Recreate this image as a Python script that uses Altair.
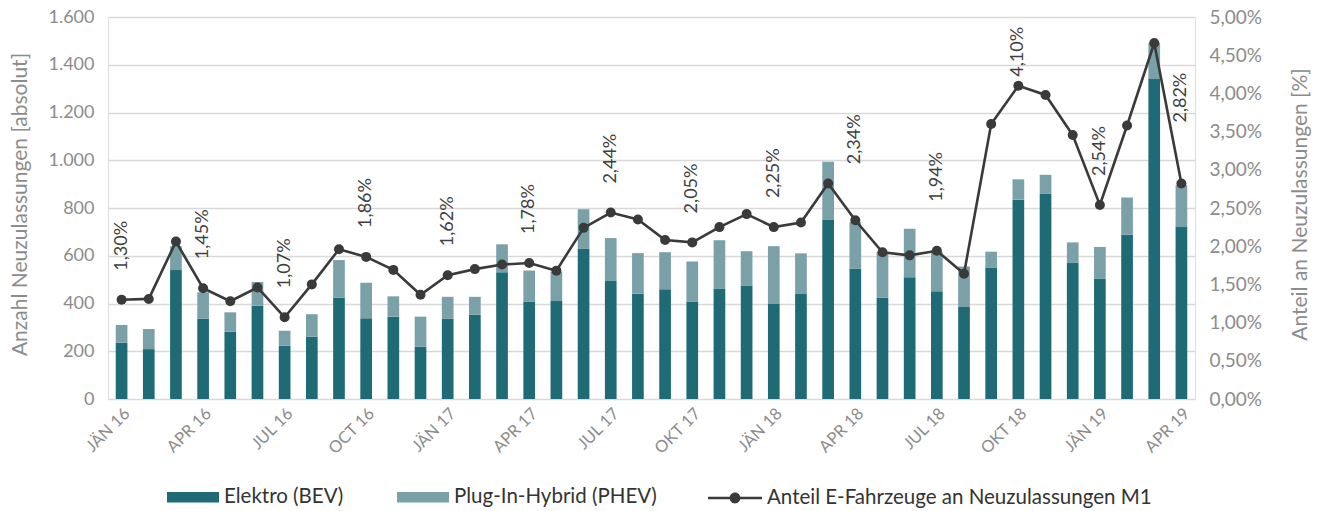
import altair as alt
import pandas as pd

FONT = "Lato"
GREY = "#8c8c8c"
DARK = "#3a3a3a"

months = [
    "JÄN 16", "FEB 16", "MÄR 16", "APR 16", "MAI 16", "JUN 16", "JUL 16", "AUG 16", "SEP 16", "OCT 16", "NOV 16", "DEZ 16",
    "JÄN 17", "FEB 17", "MÄR 17", "APR 17", "MAI 17", "JUN 17", "JUL 17", "AUG 17", "SEP 17", "OKT 17", "NOV 17", "DEZ 17",
    "JÄN 18", "FEB 18", "MÄR 18", "APR 18", "MAI 18", "JUN 18", "JUL 18", "AUG 18", "SEP 18", "OKT 18", "NOV 18", "DEZ 18",
    "JÄN 19", "FEB 19", "MÄR 19", "APR 19",
]
bev = [236, 209, 540, 336, 282, 391, 223, 261, 424, 338, 345, 219,
       336, 353, 531, 407, 410, 630, 494, 441, 460, 407, 461, 475,
       398, 440, 750, 545, 424, 510, 451, 385, 551, 835, 859, 572,
       503, 688, 1340, 720]
total = [310, 293, 640, 447, 363, 490, 286, 355, 582, 487, 430, 345,
         428, 428, 648, 538, 533, 795, 674, 611, 615, 576, 665, 619,
         640, 610, 994, 741, 616, 713, 617, 555, 617, 920, 939, 656,
         637, 844, 1492, 895]
share = [1.30, 1.31, 2.06, 1.45, 1.28, 1.46, 1.07, 1.50, 1.96, 1.86, 1.69, 1.365,
         1.62, 1.70, 1.76, 1.78, 1.68, 2.24, 2.44, 2.35, 2.08, 2.05, 2.25, 2.42,
         2.25, 2.31, 2.82, 2.34, 1.92, 1.88, 1.94, 1.64, 3.60, 4.10, 3.98, 3.455,
         2.54, 3.58, 4.66, 2.82]
phev = [t - b for t, b in zip(total, bev)]

types = ["Elektro (BEV)", "Plug-In-Hybrid (PHEV)"]
type_colors = ["#1f6b75", "#7aa0a8"]
series_name = "Anteil E-Fahrzeuge an Neuzulassungen M1"
shown_months = months[::3]
left_ticks = [0, 200, 400, 600, 800, 1000, 1200, 1400, 1600]
right_ticks = [0, 0.5, 1, 1.5, 2, 2.5, 3, 3.5, 4, 4.5, 5]

# gap (px) between a point and its rotated value label; labels not listed use the default
LABEL_GAP_DEFAULT = 29
label_gap = {"APR 18": 56, "JUL 18": 49, "OKT 18": 9, "APR 19": 61}

rows = []
for i, m in enumerate(months):
    rows.append({"month": m, "type": types[0], "value": bev[i], "ord": 0})
    rows.append({"month": m, "type": types[1], "value": phev[i], "ord": 1})
bars_df = pd.DataFrame(rows)
line_df = pd.DataFrame({"month": months, "share": share,
                        "idx": list(range(len(months))), "series": series_name})

x_axis = alt.Axis(values=shown_months, labelAngle=-45, title=None, ticks=False,
                  domain=False, grid=False, labelColor=GREY, labelFontSize=16.5,
                  labelPadding=6, labelFont=FONT)
x_enc = alt.X("month:N", sort=months,
              scale=alt.Scale(paddingInner=0.57, paddingOuter=0.285), axis=x_axis)
x_plain = alt.X("month:N", sort=months)

bars = alt.Chart(bars_df).mark_bar().encode(
    x=x_enc,
    y=alt.Y("value:Q", stack="zero", scale=alt.Scale(domain=[0, 1600]),
            axis=alt.Axis(values=left_ticks, title="Anzahl Neuzulassungen [absolut]",
                          labelExpr="replace(format(datum.value, ','), ',', '.')",
                          grid=True, gridColor="#d9d9d9", gridWidth=1.5,
                          domain=False, ticks=False, labelFontSize=18,
                          labelColor=GREY, labelFont=FONT, labelPadding=14,
                          titleFontSize=21, titleColor=GREY, titleFont=FONT,
                          titleFontWeight="normal", titleAngle=270,
                          titleAlign="center", titleBaseline="middle",
                          titleX=-88, titleY=187)),
    fill=alt.Fill("type:N", scale=alt.Scale(domain=types, range=type_colors),
                  legend=alt.Legend(orient="none", legendX=59, legendY=454,
                                    direction="horizontal", title=None,
                                    symbolType="M-1,-0.2H1V0.2H-1Z", symbolSize=2704,
                                    symbolStrokeWidth=0, labelFontSize=20.5,
                                    labelColor="#333333", labelFont=FONT,
                                    labelOffset=5, columnPadding=53, labelLimit=400)),
    order=alt.Order("ord:Q"),
)

right_axis = alt.Axis(orient="right", values=right_ticks,
                      labelExpr="replace(format(datum.value, '.2f'), '.', ',') + '%'",
                      grid=False, domain=False, ticks=False, labelFontSize=19,
                      labelColor=GREY, labelFont=FONT, labelPadding=14,
                      title="Anteil an Neuzulassungen [%]", titleFontSize=21,
                      titleColor=GREY, titleFont=FONT, titleFontWeight="normal",
                      titleAngle=270, titleAlign="center", titleBaseline="middle",
                      titleX=105, titleY=187)
y_share = alt.Y("share:Q", scale=alt.Scale(domain=[0, 5]), axis=right_axis)

line = alt.Chart(line_df).mark_line(color=DARK, strokeWidth=2.6).encode(
    x=x_plain,
    y=y_share,
)

points = alt.Chart(line_df).mark_circle(size=100, opacity=1).encode(
    x=x_plain,
    y=y_share,
    fill=alt.Fill("series:N", scale=alt.Scale(domain=[series_name], range=[DARK]),
                  legend=alt.Legend(orient="none", legendX=600, legendY=454,
                                    title=None,
                                    symbolType="M-1,-0.045H1V0.045H-1Z M0.2,0A0.2,0.2 0 1 1 -0.2,0A0.2,0.2 0 1 1 0.2,0Z",
                                    symbolSize=2916, symbolStrokeWidth=0,
                                    labelFontSize=20.5, labelColor="#333333",
                                    labelFont=FONT, labelOffset=5, labelLimit=600)),
)

label_base = alt.Chart(line_df).transform_filter("datum.idx % 3 == 0").transform_calculate(
    lab="replace(format(datum.share, '.2f'), '.', ',') + '%'"
)
gap_groups = {}
for m in shown_months:
    gap_groups.setdefault(label_gap.get(m, LABEL_GAP_DEFAULT), []).append(m)
label_layers = []
for gap, ms in gap_groups.items():
    label_layers.append(
        label_base.transform_filter(alt.FieldOneOfPredicate(field="month", oneOf=ms))
        .mark_text(angle=270, align="left", baseline="middle", dx=gap, fontSize=18,
                   color="#404040", font=FONT)
        .encode(x=x_plain, y=y_share, text="lab:N")
    )

right_layer = alt.layer(line, points, *label_layers)

chart = alt.layer(bars, right_layer).resolve_scale(
    y="independent", fill="independent"
).properties(
    width=1087, height=382,
    autosize=alt.AutoSizeParams(type="none"),
    padding={"left": 100, "top": 9, "right": 118, "bottom": 112},
).configure_view(stroke=None).configure(font=FONT)

chart.save("out.html", embed_options={"renderer": "svg", "actions": False})
